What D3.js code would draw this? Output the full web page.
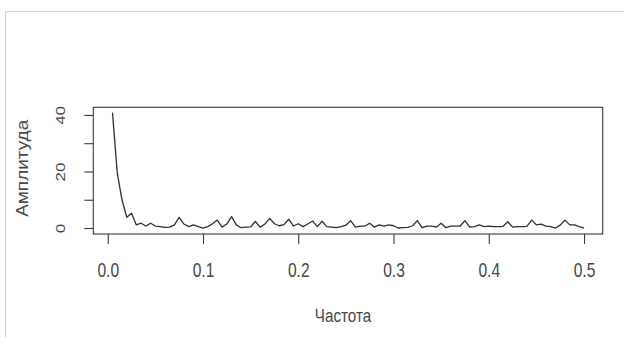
<!DOCTYPE html>
<html>
<head>
<meta charset="utf-8">
<script src="https://cdn.jsdelivr.net/npm/d3@7"></script>
<style>
  html, body { margin: 0; padding: 0; background: #fff; }
  svg { display: block; }
  text { font-family: "Liberation Sans", Arial, sans-serif; fill: #474747; }
</style>
</head>
<body>
<svg id="chart" width="624" height="337"></svg>
<script>
// ---- data ----
const frequencies = d3.range(1, 101).map(k => k / 200);
const amplitudes = [
  40.8, 19.5, 9.9, 3.8, 5.2, 1.1, 1.7, 0.7, 1.7, 0.7,
  0.5, 0.2, 0.3, 1.1, 3.8, 1.4, 0.5, 1.1, 0.5, 0.0,
  0.5, 1.5, 2.8, 0.3, 1.4, 4.0, 1.1, 0.1, 0.3, 0.4,
  2.3, 0.3, 1.4, 3.4, 1.5, 0.8, 1.2, 3.1, 0.7, 1.5,
  0.5, 1.4, 2.5, 0.5, 2.4, 0.5, 0.3, 0.1, 0.5, 1.0,
  2.6, 0.3, 0.7, 0.7, 1.7, 0.3, 1.1, 0.7, 1.1, 0.8,
  0.0, 0.1, 0.2, 0.8, 2.6, 0.1, 0.7, 0.7, 0.3, 1.7,
  0.1, 0.7, 0.7, 0.7, 2.6, 0.3, 0.5, 1.1, 0.5, 0.7,
  0.5, 0.5, 0.6, 2.2, 0.3, 0.5, 0.5, 0.6, 2.8, 1.1,
  1.4, 0.7, 0.5, 0.0, 1.0, 2.8, 1.1, 1.1, 0.5, 0.0
];
const xTicks = [0, 0.1, 0.2, 0.3, 0.4, 0.5];
const xTickLabels = ["0.0", "0.1", "0.2", "0.3", "0.4", "0.5"];
const yTicks = [0, 10, 20, 30, 40];
const yTickLabels = ["0", "", "20", "", "40"];
const xTitle = "Частота";
const yTitle = "Амплитуда";

// ---- layout ----
const box = { left: 93.3, right: 602.7, top: 107.3, bottom: 234 };
const svg = d3.select("#chart");

// screenshot frame lines
svg.append("line").attr("x1", 6).attr("x2", 624).attr("y1", 11.5).attr("y2", 11.5)
  .attr("stroke", "#cfcfcf").attr("stroke-width", 1);
svg.append("line").attr("x1", 5.5).attr("x2", 5.5).attr("y1", 11.5).attr("y2", 337)
  .attr("stroke", "#cfcfcf").attr("stroke-width", 1);

const x = d3.scaleLinear().domain([-0.01515, 0.5196]).range([box.left, box.right]);
const y = d3.scaleLinear().domain([-2.12, 42.7]).range([box.bottom, box.top]);

// plot box
svg.append("rect")
  .attr("x", box.left).attr("y", box.top)
  .attr("width", box.right - box.left).attr("height", box.bottom - box.top)
  .attr("fill", "none").attr("stroke", "#3a3a3a").attr("stroke-width", 1.1);

// x axis
const xAxis = d3.axisBottom(x).tickValues(xTicks).tickSize(10).tickFormat(() => "");
const gx = svg.append("g").attr("transform", `translate(0,${box.bottom})`).call(xAxis);
gx.select(".domain").remove();
gx.selectAll(".tick line").attr("stroke", "#3a3a3a").attr("stroke-width", 1.1);
gx.selectAll(".tick").append("text")
  .attr("text-anchor", "middle")
  .attr("transform", "translate(0,42.5) scale(0.78,1)")
  .attr("font-size", 20)
  .text((d, i) => xTickLabels[i]);

// y axis
const yAxis = d3.axisLeft(y).tickValues(yTicks).tickSize(9).tickFormat(() => "");
const gy = svg.append("g").attr("transform", `translate(${box.left},0)`).call(yAxis);
gy.select(".domain").remove();
gy.selectAll(".tick line").attr("stroke", "#3a3a3a").attr("stroke-width", 1.1);
gy.selectAll(".tick").append("text")
  .attr("text-anchor", "middle")
  .attr("transform", "translate(-28,0) rotate(-90) scale(1,0.8)")
  .attr("font-size", 17)
  .text((d, i) => yTickLabels[i]);

// titles
svg.append("text").attr("transform", "translate(343,321.7) scale(0.8,1)")
  .attr("text-anchor", "middle").attr("font-size", 19).text(xTitle);
svg.append("text").attr("transform", `translate(27.5,168.3) rotate(-90) scale(1,0.85)`)
  .attr("text-anchor", "middle").attr("font-size", 19).text(yTitle);

// series line
const line = d3.line().x((d, i) => x(frequencies[i])).y(d => y(d));
svg.append("path").datum(amplitudes)
  .attr("d", line)
  .attr("fill", "none").attr("stroke", "#2e2e2e").attr("stroke-width", 1.3)
  .attr("stroke-linejoin", "round");
</script>
</body>
</html>
